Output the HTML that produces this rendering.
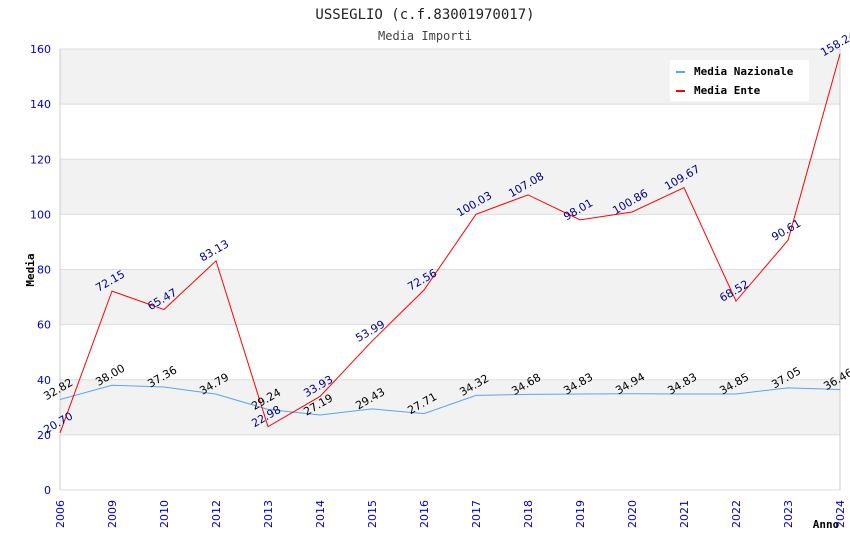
<!DOCTYPE html>
<html><head><meta charset="utf-8"><style>
body{margin:0;background:#fff}
svg text{font-family:"DejaVu Sans","Liberation Sans",sans-serif}
.mono{font-family:"DejaVu Sans Mono","Liberation Mono",monospace}
</style></head><body>
<svg id="chart" width="850" height="550" xmlns="http://www.w3.org/2000/svg">
<text class="mono" x="425" y="19" text-anchor="middle" font-size="14" fill="#222">USSEGLIO (c.f.83001970017)</text>
<text class="mono" x="425" y="40" text-anchor="middle" font-size="12" fill="#444">Media Importi</text>
<g id="bands"></g><g id="grid"></g><g id="axes"></g><g id="series"></g><g id="labels"></g>
<text class="mono" transform="translate(34,270) rotate(-90)" text-anchor="middle" font-size="11" font-weight="bold" fill="#000">Media</text>
<text class="mono" x="826" y="528" text-anchor="middle" font-size="11" font-weight="bold" fill="#000">Anno</text>
<g>
<rect x="670" y="60" width="139" height="41" fill="#fff"/>
<rect x="676" y="71" width="9" height="2" fill="#5aa5f0"/>
<text class="mono" x="694" y="75" font-size="11" font-weight="bold">Media Nazionale</text>
<rect x="676" y="90" width="9" height="2" fill="#f00"/>
<text class="mono" x="694" y="94" font-size="11" font-weight="bold">Media Ente</text>
</g>
</svg>
<script>
const categories=["2006","2009","2010","2012","2013","2014","2015","2016","2017","2018","2019","2020","2021","2022","2023","2024"];
const nazionale=[32.82,38.00,37.36,34.79,29.24,27.19,29.43,27.71,34.32,34.68,34.83,34.94,34.83,34.85,37.05,36.46];
const ente=[20.70,72.15,65.47,83.13,22.98,33.93,53.99,72.56,100.03,107.08,98.01,100.86,109.67,68.52,90.61,158.24];
const yTicks=[0,20,40,60,80,100,120,140,160];
const L=60,R=840,T=49,B=490,YMAX=160;
const NS="http://www.w3.org/2000/svg";
const xs=i=>L+i*(R-L)/(categories.length-1);
const ys=v=>B-v/YMAX*(B-T);
function mk(tag,attrs,parent,txt){const e=document.createElementNS(NS,tag);for(const k in attrs)e.setAttribute(k,attrs[k]);if(txt!==undefined)e.textContent=txt;document.getElementById(parent).appendChild(e);return e;}
for(let i=0;i<yTicks.length-1;i++){
  if(i%2===1){const r=mk('rect',{x:L,y:ys(yTicks[i+1]),width:R-L,height:ys(yTicks[i])-ys(yTicks[i+1]),fill:'#f2f2f2'},'bands');
  
  }
}
yTicks.forEach(t=>{
  const l=mk('line',{x1:L,x2:R,y1:ys(t),y2:ys(t),stroke:'#ddd'},'grid');
  
  
  const tx=mk('text',{x:L-9,y:ys(t)+4,'text-anchor':'end','font-size':11,fill:'#00c'},'axes',t);
  
  
});
mk('line',{x1:L,x2:L,y1:T,y2:B,stroke:'#ccc'},'axes');
mk('line',{x1:R,x2:R,y1:T,y2:B,stroke:'#ccc'},'axes');
categories.forEach((c,i)=>{
  const tx=mk('text',{transform:`translate(${xs(i)+4},${B+10}) rotate(-90)`,'text-anchor':'end','font-size':11,fill:'#00c'},'axes',c);
  
  
});
function series(vals,color,lblColor,name){
  const p=mk('polyline',{points:vals.map((v,i)=>xs(i)+','+ys(v)).join(' '),fill:'none',stroke:color,'stroke-width':1},'series');
  
  
  vals.forEach((v,i)=>{
    const t=mk('text',{transform:`translate(${xs(i)},${ys(v)-7}) rotate(-30)`,'text-anchor':'middle','font-size':11,fill:lblColor},'labels',v.toFixed(2));
    
    
  });
}
series(nazionale,'#5aa5f0','#000','media-nazionale');
series(ente,'#f00','#00008b','media-ente');
</script>
</body></html>
